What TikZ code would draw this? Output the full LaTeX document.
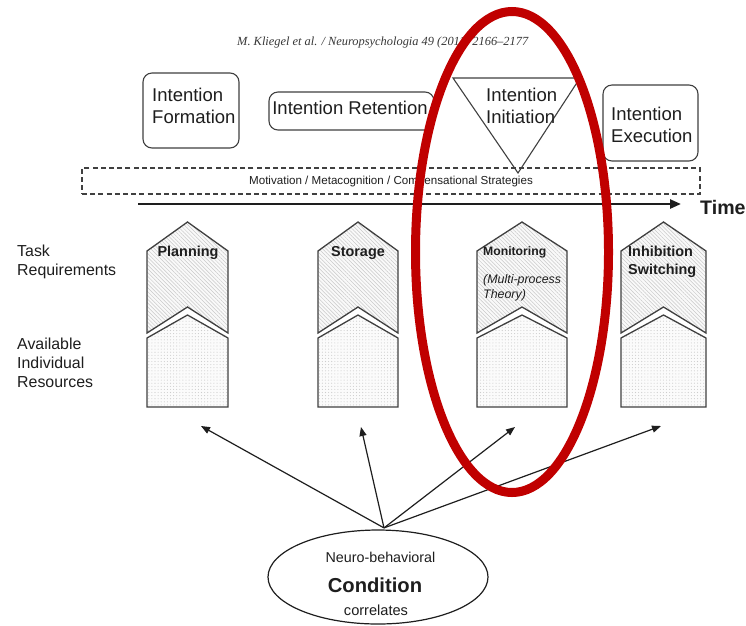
\documentclass[tikz,border=0pt]{standalone}
\usepackage{fontspec}
\setmainfont{Liberation Sans}
\newfontfamily\citefont{Liberation Serif}
\usetikzlibrary{arrows.meta,patterns.meta,shapes.geometric,calc}

\definecolor{ink}{HTML}{1E1E1E}
\definecolor{edge}{HTML}{404040}
\definecolor{hilite}{HTML}{C00000}

\tikzset{
  ibox/.style={draw=edge, line width=1.1pt, rounded corners=9pt, inner sep=0pt},
  itext/.style={align=left, inner sep=0pt, text=ink, font=\fontsize{18.5}{22}\selectfont},
  stratbox/.style={draw=edge, line width=1.2pt, dash pattern=on 5pt off 3.2pt,
    inner sep=0pt, text=ink, font=\fontsize{11.6}{14}\selectfont},
  hatchpart/.style={draw=edge, line width=1.3pt, line join=miter,
    preaction={fill=gray!5},
    preaction={pattern={Lines[angle=-45,distance=2.7pt,line width=0.5pt]}, pattern color=gray!42}},
  dotpart/.style={draw=edge, line width=1.3pt, line join=miter,
    preaction={fill=gray!3},
    preaction={pattern={Dots[distance=3.1pt,radius=0.55pt]}, pattern color=gray!40}},
  collabel/.style={font=\bfseries\fontsize{14.4}{17.5}\selectfont, text=ink, align=left, inner sep=0pt},
  sidelabel/.style={font=\fontsize{15.9}{19}\selectfont, text=ink, align=left, inner sep=0pt, anchor=west},
  conn/.style={draw=ink, line width=1.2pt, -{Triangle[length=9pt,width=7pt]}},
  timeline/.style={draw=ink, line width=2.4pt, -{Triangle[length=11pt,width=9pt]}},
  condtext/.style={text=ink, inner sep=0pt, font=\fontsize{14.3}{17}\selectfont},
}

% one column: hatched task part above the dotted resource part
\newcommand\taskcol[2]{%
  \draw[hatchpart] (#1,251) -- ({(#1+#2)/2},222) -- (#2,251) -- (#2,333)
        -- ({(#1+#2)/2},307) -- (#1,333) -- cycle;
  \draw[dotpart] (#1,338) -- ({(#1+#2)/2},315) -- (#2,338) -- (#2,407)
        -- (#1,407) -- cycle;
}

\begin{document}
\begin{tikzpicture}[x=1pt,y=-1pt]
\useasboundingbox[fill=white] (0,0) rectangle (746,625);

% running head
\node[font=\citefont\itshape\fontsize{12.4}{14}\selectfont, text=black!78, anchor=west, inner sep=0pt]
  (cite) at (237,43) {M. Kliegel et al. / Neuropsychologia 49 (2011) 2166–2177};

% intention phases
\node[ibox, minimum width=96pt, minimum height=75pt] (formbox) at (191,110.5) {};
\node[itext, anchor=west] (form) at (152,106) {Intention\\Formation};
\node[ibox, minimum width=165pt, minimum height=38pt] (retnbox) at (351.5,111) {};
\node[itext] (retn) at (350,108) {Intention Retention};
\draw[draw=edge, line width=1.1pt, line join=miter] (453,78) -- (580,78) -- (518,173) -- cycle;
\node[itext, anchor=west] (init) at (486,105.5) {Intention\\Initiation};
\node[ibox, minimum width=95pt, minimum height=76pt] (execbox) at (650.5,123) {};
\node[itext, anchor=west] (exec) at (611,124.5) {Intention\\Execution};

% moderating factors and time axis
\node[stratbox, minimum width=618pt, minimum height=26pt] (strat) at (391,181)
  {Motivation / Metacognition / Compensational Strategies};
\coordinate (t0) at (138,204);
\coordinate (t1) at (681,204);
\draw[timeline] (t0) -- (t1);
\node[font=\bfseries\fontsize{19.6}{24}\selectfont, text=ink, anchor=west, inner sep=0pt] (time) at (700,207) {Time};

% row labels
\node[sidelabel] (taskreq) at (17,262) {Task\\Requirements};
\node[sidelabel] (avail) at (17,363) {Available\\Individual\\Resources};

% columns
\taskcol{147}{228}
\taskcol{318}{398}
\taskcol{477}{567}
\taskcol{621}{706}

\node[collabel] (plan) at (188,253) {Planning};
\node[collabel] (stor) at (358,253) {Storage};
\node[collabel, anchor=west, font=\bfseries\fontsize{12.2}{15}\selectfont] (moni) at (483,252.5) {Monitoring};
\node[collabel, anchor=west, font=\itshape\fontsize{12.4}{14.5}\selectfont] (mpt) at (483,288) {(Multi-process\\Theory)};
\node[collabel, anchor=west] (inhi) at (628,262) {Inhibition\\Switching};

% neuro-behavioral condition
\node[ellipse, draw=ink, line width=1.2pt, minimum width=220pt, minimum height=94pt, inner sep=0pt] (cond) at (378,577) {};
\node[condtext] (nb) at (380.5,557) {Neuro-behavioral};
\node[condtext, font=\bfseries\fontsize{20.2}{24}\selectfont] (cd) at (375,585) {Condition};
\node[condtext, font=\fontsize{14.6}{17}\selectfont] (cr) at (376,610) {correlates};

\coordinate (src) at ([xshift=6pt,yshift=1.5pt]cond.north);
\coordinate (plin) at (201,426);
\coordinate (stin) at (361,427);
\coordinate (moin) at (515,427);
\coordinate (inin) at (661,426);
\draw[conn] (src) -- (plin);
\draw[conn] (src) -- (stin);
\draw[conn] (src) -- (moin);
\draw[conn] (src) -- (inin);

% highlight
\draw[hilite, line width=9pt] (512,252) ellipse [x radius=96.5pt, y radius=240.5pt];
\end{tikzpicture}
\end{document}
